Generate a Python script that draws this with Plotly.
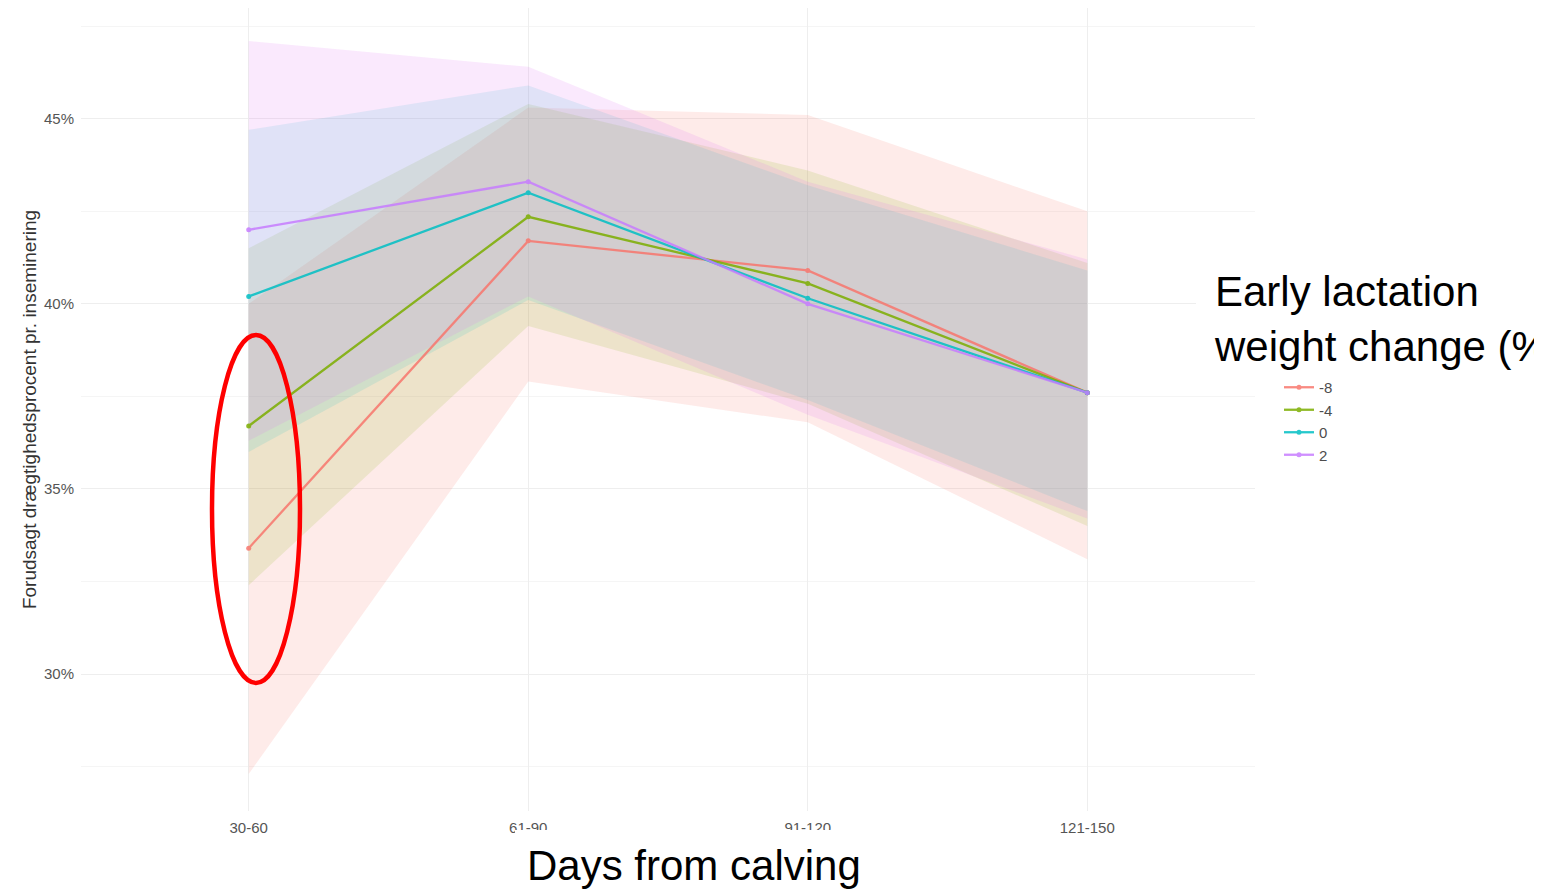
import plotly.graph_objects as go

# ---------------- data ----------------
categories = ["30-60", "61-90", "91-120", "121-150"]
groups = ["-8", "-4", "0", "2"]

fit_m8 = [33.4, 41.7, 40.9, 37.6]
fit_m4 = [36.7, 42.35, 40.55, 37.6]
fit_0 = [40.2, 43.0, 40.15, 37.6]
fit_2 = [42.0, 43.3, 40.0, 37.6]

lower_m8 = [27.3, 37.9, 36.8, 33.1]
upper_m8 = [40.0, 45.3, 45.1, 42.5]
lower_m4 = [32.4, 39.4, 37.3, 34.0]
upper_m4 = [41.5, 45.4, 43.6, 41.1]
lower_0 = [36.0, 40.1, 37.4, 34.4]
upper_0 = [44.7, 45.9, 43.2, 40.9]
lower_2 = [36.3, 40.2, 37.0, 34.2]
upper_2 = [47.1, 46.4, 43.3, 41.2]

y_ticks = [30, 35, 40, 45]
y_tick_labels = ["30%", "35%", "40%", "45%"]

colors = ["#F8766D", "#7CAE00", "#00BFC4", "#C77CFF"]
fills = ["rgba(248,118,109,0.15)", "rgba(124,174,0,0.13)",
         "rgba(0,191,196,0.12)", "rgba(225,120,245,0.16)"]

fits = [fit_m8, fit_m4, fit_0, fit_2]
lowers = [lower_m8, lower_m4, lower_0, lower_2]
uppers = [upper_m8, upper_m4, upper_0, upper_2]

# ---------------- layout geometry (screen pixels; page body offsets by 8px) ----------------
OFF = 8
W, H = 1542 - OFF, 891 - OFF
ML, MR, MT, MB = 81 - OFF, 287, 0, 80
PW, PH = W - ML - MR, H - MT - MB


def px(xs):
    return (xs - OFF - ML) / PW


def py(ys):
    return 1 - (ys - OFF - MT) / PH


FONT = "Liberation Sans, Arial, sans-serif"

fig = go.Figure()

# ribbons
for g, lo, up, fc in zip(groups, lowers, uppers, fills):
    fig.add_trace(go.Scatter(
        x=categories + categories[::-1],
        y=up + lo[::-1],
        fill="toself", fillcolor=fc, mode="none",
        line=dict(width=0), showlegend=False, hoverinfo="skip",
        legendgroup=g,
    ))

# lines + points
for g, f, c in zip(groups, fits, colors):
    fig.add_trace(go.Scatter(
        x=categories, y=f, mode="lines+markers", name=g,
        line=dict(color=c, width=2.3), marker=dict(color=c, size=5),
        opacity=0.85, legendgroup=g,
    ))

# red ellipse highlight
fig.add_shape(type="circle", xref="paper", yref="paper",
              x0=px(212), x1=px(300), y0=py(683), y1=py(335),
              line=dict(color="#FF0000", width=4.5), fillcolor="rgba(0,0,0,0)")

# white boxes of the pasted overlay titles
fig.add_shape(type="rect", xref="paper", yref="paper", layer="above",
              x0=px(515), x1=px(878), y0=py(891), y1=py(830),
              line=dict(width=0), fillcolor="white")
fig.add_shape(type="rect", xref="paper", yref="paper", layer="above",
              x0=px(1196), x1=px(1542), y0=py(376), y1=py(266),
              line=dict(width=0), fillcolor="white")

# overlay titles
fig.add_annotation(xref="paper", yref="paper", x=px(1213), y=py(319),
                   xanchor="left", yanchor="middle",
                   text="Early lactation<br>weight change (%)", align="left",
                   showarrow=False, borderpad=0,
                   font=dict(family=FONT, size=42, color="black"))
fig.add_annotation(xref="paper", yref="paper", x=px(694), y=py(865),
                   xanchor="center", yanchor="middle",
                   text="Days from calving", showarrow=False, borderpad=0,
                   font=dict(family=FONT, size=42, color="black"))

fig.update_layout(
    width=W, height=H,
    margin=dict(l=ML, r=MR, t=MT, b=MB, autoexpand=False),
    paper_bgcolor="white", plot_bgcolor="white",
    font=dict(family=FONT, color="#4D4D4D"),
    showlegend=True,
    legend=dict(x=px(1279), y=py(371), xanchor="left", yanchor="top",
                font=dict(size=15, color="#4D4D4D"), traceorder="grouped",
                tracegroupgap=0, itemwidth=30, bgcolor="rgba(0,0,0,0)"),
    xaxis=dict(type="category", categoryorder="array", categoryarray=categories,
               range=[-0.6, 3.6], showgrid=True, gridcolor="#EEEEEE", gridwidth=1.2,
               zeroline=False, showline=False, ticks="", ticklabelstandoff=6,
               tickfont=dict(size=15, color="#555555"), fixedrange=True),
    yaxis=dict(range=[26.3, 47.99], tickvals=y_ticks, ticktext=y_tick_labels,
               showgrid=True, gridcolor="#EEEEEE", gridwidth=1.2,
               minor=dict(dtick=2.5, tick0=0, showgrid=True, gridcolor="#F5F5F5", gridwidth=1),
               zeroline=False, showline=False, ticks="", ticklabelstandoff=6,
               tickfont=dict(size=15, color="#555555"),
               title=dict(text="Forudsagt drægtighedsprocent pr. inseminering",
                          font=dict(size=19, color="#333333"), standoff=2)),
)

fig.write_html("out.html")
